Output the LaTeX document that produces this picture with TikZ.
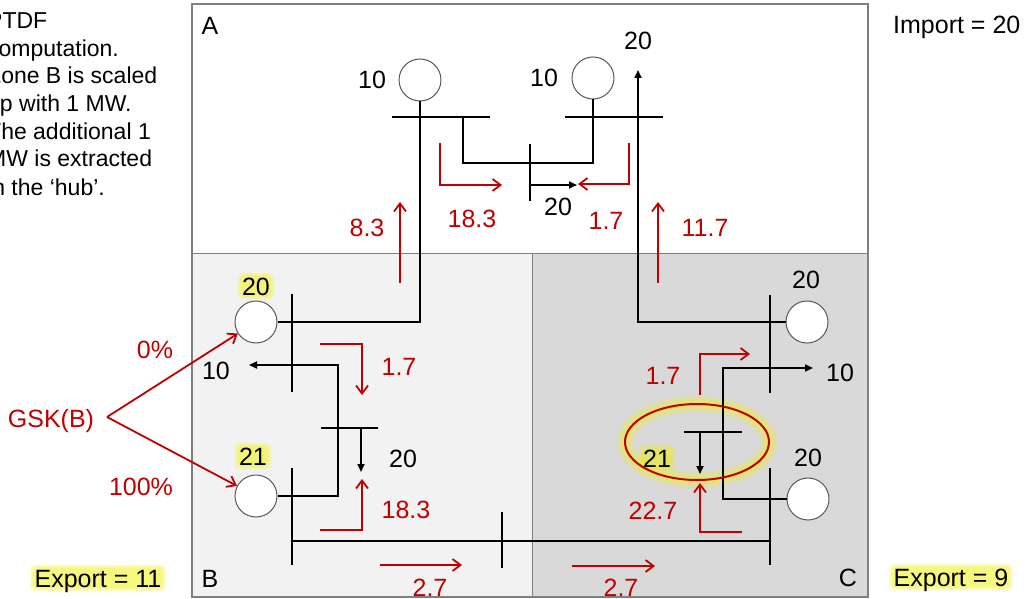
\documentclass[tikz,border=0pt]{standalone}
\usepackage{fontspec}
\setmainfont{Liberation Sans}
\usetikzlibrary{arrows.meta,shapes.geometric}
\definecolor{fred}{HTML}{C00000}
\definecolor{zoneB}{HTML}{F2F2F2}
\definecolor{zoneC}{HTML}{D9D9D9}
\definecolor{framec}{HTML}{7F7F7F}
\definecolor{glowy}{HTML}{F2F200}
\pgfdeclarelayer{under}
\pgfsetlayers{under,main}
\tikzset{
  lbl/.style={font=\fontsize{25}{30}\selectfont, inner sep=0pt, text height=18pt, text depth=0pt},
  rlbl/.style={lbl, text=fred},
  ltxt/.style={font=\fontsize{23}{27}\selectfont, inner sep=0pt, anchor=base west},
  gen/.style={circle, draw=black!65, line width=1pt, fill=white, minimum size=42pt, inner sep=0pt},
  busbar/.style={line width=2pt, black},
  wire/.style={line width=1.7pt, black},
  load/.style={wire, -{Triangle[length=8pt,width=7pt]}},
  flow/.style={line width=1.8pt, fred, -{Straight Barb[length=8pt,width=12pt]}},
  glowrect/.style={fill=glowy, opacity=0.13, rounded corners=5pt},
}
% soft yellow glow behind an already placed node #1
\newcommand\glowbehind[1]{%
  \begin{pgfonlayer}{under}
  \foreach \gr in {0.5,1.5,2.5,3.5,4.5}{%
    \path[glowrect] ([shift={(-\gr,\gr)}]#1.south west) rectangle ([shift={(\gr,-\gr)}]#1.north east);
  }%
  \end{pgfonlayer}%
}
\begin{document}
\begin{tikzpicture}[x=1pt,y=-1pt]
\useasboundingbox (0,0) rectangle (1031,599);
\clip (0,0) rectangle (1031,599);
% ---------------- zones (on the lowest layer)
\begin{pgfonlayer}{under}
\path[fill=white] (0,0) rectangle (1031,599);
\path[fill=white] (192,4) rectangle (868,253);
\path[fill=zoneB] (192,253) rectangle (532,597);
\path[fill=zoneC] (532,253) rectangle (868,597);
\end{pgfonlayer}
\draw[framec, line width=1pt] (192,253) -- (868,253);
\draw[framec, line width=1pt] (532,253) -- (532,597);
\draw[framec, line width=1.5pt] (192,4) rectangle (868,597);
% ---------------- highlighted ellipse (glow)
\draw[glowy, opacity=0.2, line width=16pt] (697,442) ellipse [x radius=72pt, y radius=38pt];
\draw[glowy, opacity=0.3, line width=9pt] (697,442) ellipse [x radius=72pt, y radius=38pt];
% ---------------- generators
\node[gen] (gA1) at (420,80) {};
\node[gen] (gA2) at (593,78) {};
\node[gen] (gB1) at (256,322) {};
\node[gen] (gB2) at (256,496) {};
\node[gen] (gC1) at (807,322) {};
\node[gen] (gC2) at (808,499) {};
% ---------------- coordinates
\coordinate (bA1w) at (392,117); \coordinate (bA1e) at (490,117);
\coordinate (bA2w) at (565,117); \coordinate (bA2e) at (663,117);
\coordinate (hAt) at (530,144);  \coordinate (hAb) at (530,201);
\coordinate (bB1t) at (292,294); \coordinate (bB1b) at (292,392);
\coordinate (hBw) at (321,428);  \coordinate (hBe) at (378,428);
\coordinate (bB2t) at (292,468); \coordinate (bB2b) at (292,565);
\coordinate (bTt) at (502,512);  \coordinate (bTb) at (502,568);
\coordinate (bC1t) at (770,295); \coordinate (bC1b) at (770,393);
\coordinate (hCw) at (684,432);  \coordinate (hCe) at (742,432);
\coordinate (bC2t) at (770,468); \coordinate (bC2b) at (770,565);
\coordinate (tapA) at (463,117); \coordinate (kA) at (463,163);
\coordinate (ldA) at (638,70);
\coordinate (hubA) at (530,185); \coordinate (ldHubA) at (577,185);
\coordinate (kB) at (338,365);   \coordinate (ldB) at (249,365);
\coordinate (hubB) at (361,428); \coordinate (ldHubB) at (361,472);
\coordinate (tieW) at (292,541); \coordinate (tieE) at (770,541);
\coordinate (kC) at (723,368);   \coordinate (ldC) at (813,368);
\coordinate (hubC) at (700,432); \coordinate (ldHubC) at (700,474);
% ---------------- wires
\draw[wire] (gA1.south) |- (gB1.east);
\draw[wire] (tapA) -- (kA) -| (gA2.south);
\draw[load] (gC1.west) -| (ldA);
\draw[load] (hubA) -- (ldHubA);
\draw[load] (gB2.east) -| (kB) -- (ldB);
\draw[load] (hubB) -- (ldHubB);
\draw[wire] (tieW) -- (tieE);
\draw[load] (gC2.west) -| (kC) -- (ldC);
\draw[load] (hubC) -- (ldHubC);
% ---------------- bus bars
\draw[busbar] (bA1w) -- (bA1e);
\draw[busbar] (bA2w) -- (bA2e);
\draw[busbar] (hAt) -- (hAb);
\draw[busbar] (bB1t) -- (bB1b);
\draw[busbar] (hBw) -- (hBe);
\draw[busbar] (bB2t) -- (bB2b);
\draw[busbar] (bTt) -- (bTb);
\draw[busbar] (bC1t) -- (bC1b);
\draw[busbar] (hCw) -- (hCe);
\draw[busbar] (bC2t) -- (bC2b);
% ---------------- red ellipse
\draw[fred, line width=2pt] (697,442) ellipse [x radius=72pt, y radius=38pt];
% ---------------- red flow arrows
\coordinate (f1a) at (440,143); \coordinate (f1b) at (440,185); \coordinate (f1c) at (502,185);
\coordinate (f2a) at (629,143); \coordinate (f2b) at (629,184); \coordinate (f2c) at (578,184);
\coordinate (f3a) at (400,283); \coordinate (f3b) at (400,202);
\coordinate (f4a) at (658,283); \coordinate (f4b) at (658,202);
\coordinate (f5a) at (320,344); \coordinate (f5b) at (362,344); \coordinate (f5c) at (362,395);
\coordinate (f6a) at (320,530); \coordinate (f6b) at (362,530); \coordinate (f6c) at (362,479);
\coordinate (f7a) at (380,565); \coordinate (f7b) at (462,565);
\coordinate (f8a) at (700,395); \coordinate (f8b) at (700,354); \coordinate (f8c) at (750,354);
\coordinate (f9a) at (742,532); \coordinate (f9b) at (700,532); \coordinate (f9c) at (700,483);
\coordinate (f10a) at (572,566); \coordinate (f10b) at (655,566);
\draw[flow] (f1a) -- (f1b) -- (f1c);
\draw[flow] (f2a) -- (f2b) -- (f2c);
\draw[flow] (f3a) -- (f3b);
\draw[flow] (f4a) -- (f4b);
\draw[flow] (f5a) -- (f5b) -- (f5c);
\draw[flow] (f6a) -- (f6b) -- (f6c);
\draw[flow] (f7a) -- (f7b);
\draw[flow] (f8a) -- (f8b) -- (f8c);
\draw[flow] (f9a) -- (f9b) -- (f9c);
\draw[flow] (f10a) -- (f10b);
% ---------------- GSK
\node[rlbl] (gsk) at (51,418) {GSK(B)};
\coordinate (gskpt) at (107,417);
\draw[flow] (gskpt) -- (gB1);
\draw[flow] (gskpt) -- (gB2);
\node[rlbl] (p0) at (155,349) {0\%};
\node[rlbl] (p100) at (141,486) {100\%};
% ---------------- zone letters
\node[lbl] (zA) at (210,26) {A};
\node[lbl] (zB) at (210,578) {B};
\node[lbl] (zC) at (848,577) {C};
% ---------------- black labels
\node[lbl] (lA1) at (372,80) {10};
\node[lbl] (lA2) at (544,78) {10};
\node[lbl] (lA3) at (638,41) {20};
\node[lbl] (lA4) at (558,206) {20};
\node[lbl] (lB3) at (216,370) {10};
\node[lbl] (lB4) at (403,458) {20};
\node[lbl] (lC1) at (806,279) {20};
\node[lbl] (lC2) at (840,372) {10};
\node[lbl] (lC4) at (808,457) {20};
% ---------------- red labels
\node[rlbl] (r1) at (472,218) {18.3};
\node[rlbl] (r2) at (606,220) {1.7};
\node[rlbl] (r3) at (367,227) {8.3};
\node[rlbl] (r4) at (705,227) {11.7};
\node[rlbl] (r5) at (399,366) {1.7};
\node[rlbl] (r6) at (406,509) {18.3};
\node[rlbl] (r7) at (430,587) {2.7};
\node[rlbl] (r8) at (663,375) {1.7};
\node[rlbl] (r9) at (653,510) {22.7};
\node[rlbl] (r10) at (621,587) {2.7};
% ---------------- glowing labels
\node[lbl] (gB1lbl) at (256,286) {20};   \glowbehind{gB1lbl}
\node[lbl] (gB2lbl) at (253,456) {21};   \glowbehind{gB2lbl}
\node[lbl] (hubClbl) at (657,458) {21};  \glowbehind{hubClbl}
\node[lbl] (expB) at (98,578) {Export = 11}; \glowbehind{expB}
\node[lbl] (expC) at (951,577) {Export = 9}; \glowbehind{expC}
% ---------------- import
\node[lbl, anchor=west] (imp) at (893,25) {Import = 20};
% ---------------- left text (cut by the picture edge)
\node[ltxt] (t1) at (-13,29) {PTDF};
\node[ltxt] (t2) at (-13,57) {computation.};
\node[ltxt] (t3) at (-13,84) {Zone B is scaled};
\node[ltxt] (t4) at (-13,112) {up with 1 MW.};
\node[ltxt] (t5) at (-13,140) {The additional 1};
\node[ltxt] (t6) at (-13,167) {MW is extracted};
\node[ltxt] (t7) at (-13,195) {in the ‘hub’.};
\end{tikzpicture}
\end{document}
